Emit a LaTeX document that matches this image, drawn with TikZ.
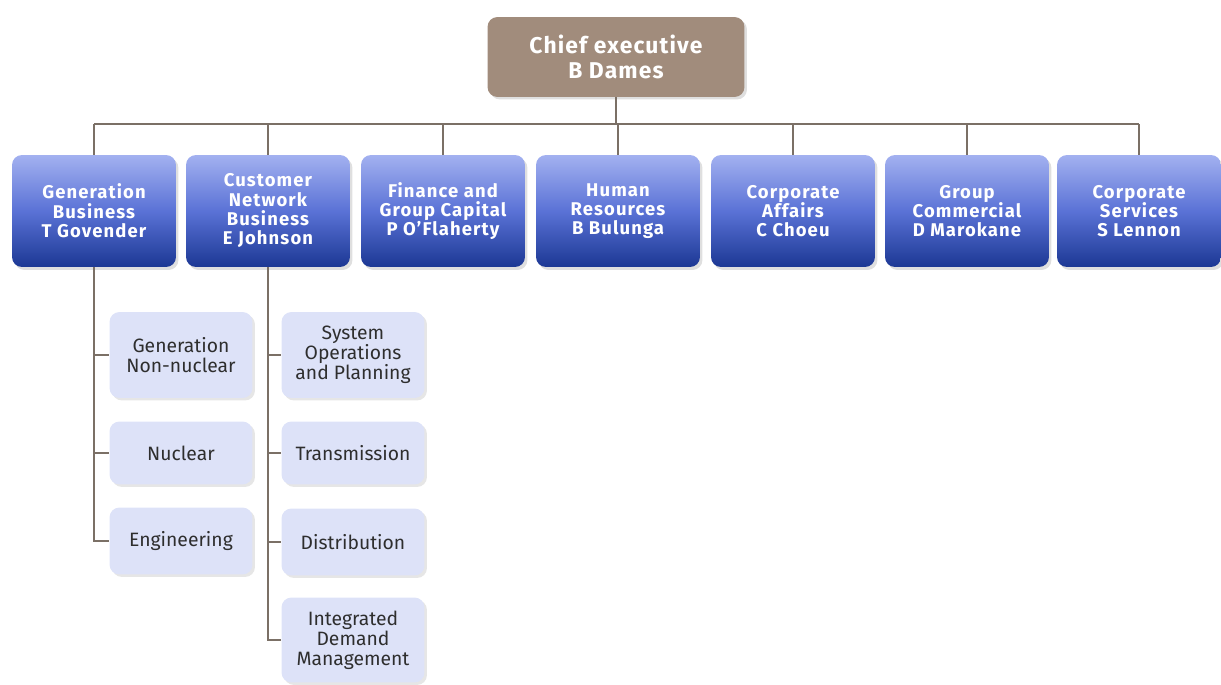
\documentclass[tikz,border=0pt]{standalone}
\usepackage{fontspec}
\setmainfont{Fira Sans}
\usepackage{tikz}
\usetikzlibrary{shadows}

\definecolor{chiefbrown}{HTML}{A18C7C}
\definecolor{deptlight}{HTML}{A3B1F0}
\definecolor{deptmid}{HTML}{5A72D6}
\definecolor{deptdark}{HTML}{1C3894}
\definecolor{unitfill}{HTML}{DDE2F8}
\definecolor{unittext}{HTML}{2E2E2E}
\definecolor{linkgray}{HTML}{7B7066}

\begin{document}
\begin{tikzpicture}[x=0.02cm, y=-0.02cm,
	chiefbox/.style={rounded corners=0.2cm, fill=chiefbrown, text=white, align=center,
		font=\bfseries\fontsize{13}{14}\selectfont\addfontfeature{LetterSpace=5},
		minimum width=5.14cm, minimum height=1.6cm,
		drop shadow={opacity=0.25, shadow xshift=0.05cm, shadow yshift=-0.05cm}},
	deptbox/.style={rounded corners=0.2cm, top color=deptlight, bottom color=deptdark,
		middle color=deptmid, text=white, align=center,
		font=\bfseries\fontsize{10.5}{11}\selectfont\addfontfeature{LetterSpace=6},
		minimum width=3.28cm, minimum height=2.24cm,
		drop shadow={opacity=0.25, shadow xshift=0.05cm, shadow yshift=-0.06cm}},
	unitbox/.style={rounded corners=0.2cm, fill=unitfill, text=unittext, align=center,
		font=\fontsize{11}{11.4}\selectfont, minimum width=2.86cm,
		drop shadow={opacity=0.2, shadow xshift=0.05cm, shadow yshift=-0.05cm}},
	link/.style={draw=linkgray, line width=0.6pt}]
	% NOTE: x and y are in pixels of the 1221x685 page, y grows downwards.
	\useasboundingbox (0,0) rectangle (1221,685);

	\node[chiefbox] (chief) at (616,57) {Chief executive\\B Dames};

	\node[deptbox] (gen) at (94,211) {Generation\\Business\\T Govender};
	\node[deptbox] (cust) at (268,211) {Customer\\Network\\Business\\E Johnson};
	\node[deptbox] (fin) at (443,211) {Finance and\\Group Capital\\P O'Flaherty};
	\node[deptbox] (hr) at (618,211) {Human\\Resources\\B Bulunga};
	\node[deptbox] (aff) at (793,211) {Corporate\\Affairs\\C Choeu};
	\node[deptbox] (com) at (967,211) {Group\\Commercial\\D Marokane};
	\node[deptbox] (srv) at (1139,211) {Corporate\\Services\\S Lennon};

	\node[unitbox, minimum height=1.72cm] (gnn) at (181,355) {Generation\\Non-nuclear};
	\node[unitbox, minimum height=1.26cm] (nuc) at (181,453) {Nuclear};
	\node[unitbox, minimum height=1.34cm] (eng) at (181,541) {Engineering};

	\node[unitbox, minimum height=1.72cm] (sop) at (353,355) {System\\Operations\\and Planning};
	\node[unitbox, minimum height=1.26cm] (tra) at (353,453) {Transmission};
	\node[unitbox, minimum height=1.34cm] (dis) at (353,542) {Distribution};
	\node[unitbox, minimum height=1.7cm] (idm) at (353,640) {Integrated\\Demand\\Management};

	\coordinate (busl) at (94,124);
	\coordinate (busr) at (1139,124);
	\draw[link] (busl) -- (busr);
	\draw[link] (chief.south) -- (chief.south |- busl);
	\foreach \d in {gen, cust, fin, hr, aff, com, srv}
		\draw[link] (\d.north) -- (\d.north |- busl);

	\foreach \u in {gnn, nuc, eng}
		\draw[link] (gen.south) |- (\u.west);
	\foreach \u in {sop, tra, dis, idm}
		\draw[link] (cust.south) |- (\u.west);
\end{tikzpicture}
\end{document}
